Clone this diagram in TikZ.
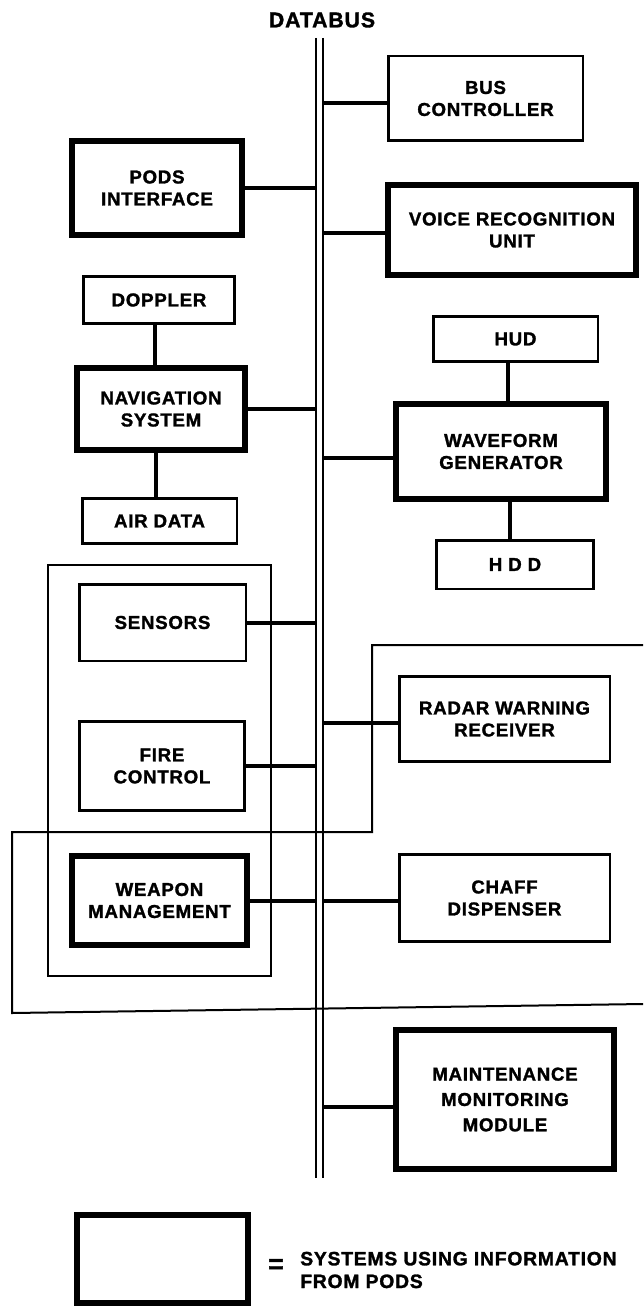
\documentclass[tikz,border=0pt]{standalone}
\usepackage{fontspec}
\setmainfont{Liberation Sans}[LetterSpace=4, BoldFeatures={FakeBold=1.5}]
\begin{document}
\begin{tikzpicture}[x=0.75pt,y=-0.75pt,
  thinbox/.style={draw, line width=1.9pt, inner sep=0pt, align=center,
    font=\bfseries\fontsize{14}{16.5}\selectfont},
  thickbox/.style={thinbox, line width=4.5pt},
  conn/.style={line width=3pt},
  busline/.style={line width=1.5pt},
  grp/.style={line width=1.5pt}]
\useasboundingbox (0,0) rectangle (643,1308);

% groups
\draw[grp] (48,565) rectangle (271,976);
\draw[grp] (643,645) -- (372,645) -- (372,832) -- (12,832) -- (12,1013) -- (643,1004);

% databus
\node[font=\bfseries\fontsize{16}{16}\selectfont] (db) at (322,20) {DATABUS};
\coordinate (bLt) at (315.6,38);
\coordinate (bLb) at (315.6,1178);
\coordinate (bRt) at (322.5,38);
\coordinate (bRb) at (322.5,1178);
\draw[busline] (bLt) -- (bLb);
\draw[busline] (bRt) -- (bRb);

% boxes
\node[thinbox, minimum width=145.9pt, minimum height=63.4pt] (bc) at (485.5,98.5) {BUS\\CONTROLLER};
\node[thickbox, minimum width=127.5pt, minimum height=70.5pt] (pods) at (157,188) {PODS\\INTERFACE};
\node[thickbox, minimum width=186pt, minimum height=67.5pt] (vru) at (512,230) {VOICE RECOGNITION\\UNIT};
\node[thinbox, minimum width=113.6pt, minimum height=35.6pt] (dop) at (159,300) {DOPPLER};
\node[thinbox, minimum width=123.4pt, minimum height=34.1pt] (hud) at (515.5,339) {HUD};
\node[thickbox, minimum width=126pt, minimum height=61.5pt] (nav) at (161,409) {NAVIGATION\\SYSTEM};
\node[thinbox, minimum width=115.9pt, minimum height=34.1pt] (air) at (159.5,521) {AIR DATA};
\node[thickbox, minimum width=157.5pt, minimum height=71.25pt] (wg) at (501,451.5) {WAVEFORM\\GENERATOR};
\node[thinbox, minimum width=118.1pt, minimum height=36.4pt] (hdd) at (515,564.5) {H D D};
\node[thinbox, minimum width=124.9pt, minimum height=57.4pt] (sen) at (162.5,622.5) {SENSORS};
\node[thinbox, minimum width=157.9pt, minimum height=64.1pt] (rwr) at (504.5,719) {RADAR WARNING\\RECEIVER};
\node[thinbox, minimum width=124.1pt, minimum height=67.1pt] (fc) at (162,766) {FIRE\\CONTROL};
\node[thickbox, minimum width=131.25pt, minimum height=66.75pt] (wm) at (159.5,900.5) {WEAPON\\MANAGEMENT};
\node[thinbox, minimum width=157.9pt, minimum height=65.6pt] (chaff) at (504.5,898) {CHAFF\\DISPENSER};
\node[thickbox, minimum width=163.5pt, minimum height=104.25pt, font=\bfseries\fontsize{14}{19}\selectfont] (mmm) at (505,1099.5) {MAINTENANCE\\MONITORING\\MODULE};

% bus connectors
\coordinate (cbc) at ([yshift=-3.4pt]bc.west);
\draw[conn] (cbc) -- (cbc -| bRt);
\draw[conn] (pods.east) -- (pods.east -| bLt);
\coordinate (cvru) at ([yshift=-2.25pt]vru.west);
\draw[conn] (cvru) -- (cvru -| bRt);
\draw[conn] (nav.east) -- (nav.east -| bLt);
\coordinate (cwg) at ([yshift=-4.9pt]wg.west);
\draw[conn] (cwg) -- (cwg -| bRt);
\draw[conn] (sen.east) -- (sen.east -| bLt);
\coordinate (crwr) at ([yshift=-3pt]rwr.west);
\draw[conn] (crwr) -- (crwr -| bRt);
\draw[conn] (fc.east) -- (fc.east -| bLt);
\draw[conn] (wm.east) -- (wm.east -| bLt);
\draw[conn] (wm.east -| bRt) -- (wm.east -| chaff.west);
\coordinate (cmmm) at ([yshift=-5.6pt]mmm.west);
\draw[conn] (cmmm) -- (cmmm -| bRt);

% vertical connectors
\coordinate (v1) at ([xshift=-3pt]dop.south);
\draw[conn] (v1) -- (v1 |- nav.north);
\coordinate (v2) at ([xshift=-3.75pt]nav.south);
\draw[conn] (v2) -- (v2 |- air.north);
\coordinate (v3) at ([xshift=-5.6pt]hud.south);
\draw[conn] (v3) -- (v3 |- wg.north);
\coordinate (v4) at ([xshift=-3.75pt]hdd.north);
\draw[conn] (v4) -- (v4 |- wg.south);

% legend
\node[thickbox, minimum width=128.25pt, minimum height=66pt] (leg) at (162.5,1259) {};
\node[font=\bfseries\fontsize{20}{20}\selectfont] (eq) at (276,1266) {=};
\node[anchor=west, align=left, inner sep=0pt, font=\bfseries\fontsize{14.5}{17}\selectfont] (legtxt) at (300,1270) {SYSTEMS USING INFORMATION\\FROM PODS};
\end{tikzpicture}
\end{document}
